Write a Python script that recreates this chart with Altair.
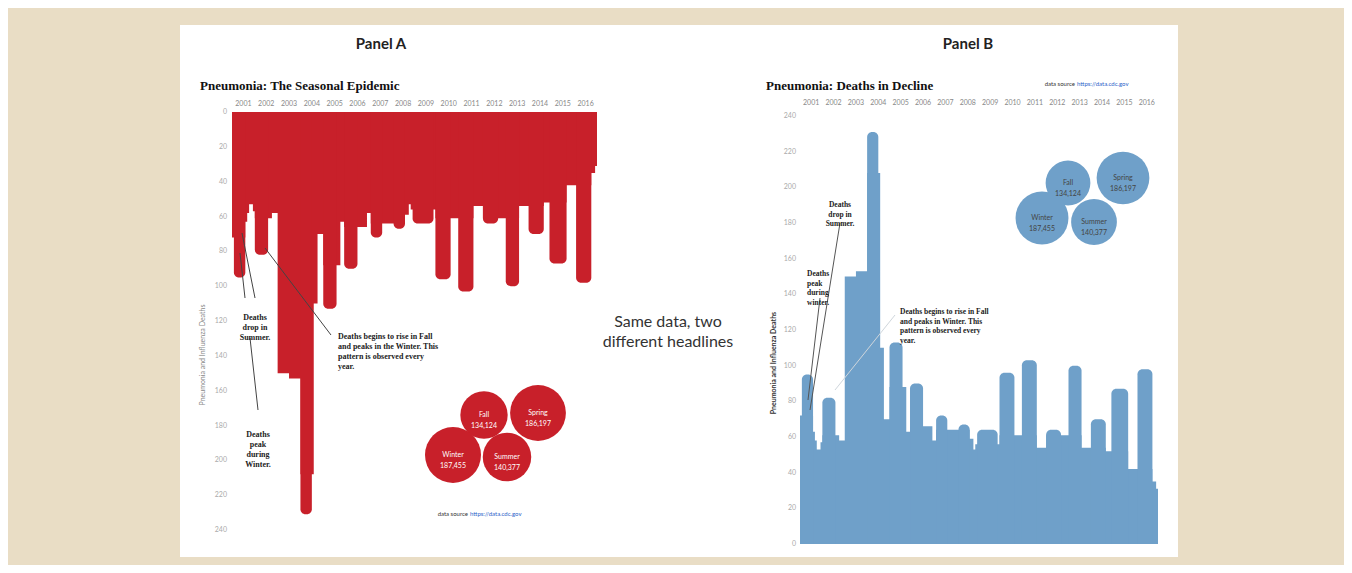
import altair as alt
import pandas as pd

# ---------------- data ----------------
years = list(range(2001, 2017))
d2001 = [72, 95, 95, 95, 95, 95, 95, 63, 58, 53, 53, 57]
d2002 = [82, 82, 82, 82, 82, 82, 82, 61, 61, 58, 58, 58]
d2003 = [150, 150, 150, 150, 150, 150, 153, 153, 153, 153, 153, 153]
d2004 = [231, 231, 231, 231, 231, 231, 208, 110, 110, 70, 70, 70]
d2005 = [113, 113, 113, 113, 113, 113, 113, 88, 88, 63, 63, 90]
d2006 = [90, 90, 90, 90, 90, 90, 66, 66, 66, 66, 66, 58]
d2007 = [58, 72, 72, 72, 72, 72, 72, 64, 64, 64, 64, 64]
d2008 = [64, 67, 67, 67, 67, 67, 67, 59, 59, 53, 56, 64]
d2009 = [64, 64, 64, 64, 64, 64, 64, 64, 64, 64, 56, 96]
d2010 = [96, 96, 96, 96, 96, 96, 96, 61, 61, 61, 61, 103]
d2011 = [103, 103, 103, 103, 103, 103, 103, 54, 54, 54, 54, 54]
d2012 = [64, 64, 64, 64, 64, 64, 64, 64, 61, 61, 61, 61]
d2013 = [100, 100, 100, 100, 100, 100, 100, 54, 54, 54, 54, 54]
d2014 = [70, 70, 70, 70, 70, 70, 70, 70, 52, 52, 52, 87]
d2015 = [87, 87, 87, 87, 87, 87, 87, 87, 42, 42, 42, 42]
d2016 = [42, 98, 98, 98, 98, 98, 98, 98, 98, 35, 35, 31]
yearly = [d2001, d2002, d2003, d2004, d2005, d2006, d2007, d2008,
          d2009, d2010, d2011, d2012, d2013, d2014, d2015, d2016]

seasons = ["Fall", "Spring", "Winter", "Summer"]
season_totals = [134124, 186197, 187455, 140377]
y_ticks = list(range(0, 241, 20))

# ---------------- layout / style ----------------
OFF = 8
def px(v):
    return v - OFF

BEIGE = "#e9ddc5"
RED = "#c8202a"
BLUE = "#6fa0c9"
SERIF = "Liberation Serif"
SANS = "Lato"
RAD = 5

A_XR = [px(232), px(597)]
A_YR = [px(112), px(530)]
B_XR = [px(800), px(1158)]
B_YR = [px(544), px(116)]

bubble_a_cx = [484, 538, 453, 507]
bubble_a_cy = [415, 413, 455, 457]
bubble_b_cx = [1068, 1123, 1042, 1094]
bubble_b_cy = [183, 178, 218, 222]

# ---------------- tables ----------------
vals = [v for yr in yearly for v in yr]
n = len(vals)

# consecutive runs of equal monthly values
runs = []
s = 0
for i in range(1, n + 1):
    if i == n or vals[i] != vals[s]:
        runs.append([s, i, vals[s]])
        s = i
# a run higher than both neighbours is a "drip" drawn with a rounded end;
# the stepped area underneath stops at the higher neighbour
area_vals = list(vals)
peaks = []
for k, (a, b, v) in enumerate(runs):
    left = runs[k - 1][2] if k > 0 else None
    right = runs[k + 1][2] if k + 1 < len(runs) else None
    if left is not None and right is not None and v > left and v > right:
        peaks.append({"start": a, "end": b, "deaths": v, "base": 0})
        for j in range(a, b):
            area_vals[j] = max(left, right)

series = pd.DataFrame({"m": list(range(n)) + [n], "deaths": area_vals + [area_vals[-1]]})
peak_df = pd.DataFrame(peaks)
year_df = pd.DataFrame({"year": [str(y) for y in years],
                        "xm": [(y - years[0]) * 12 + 6 for y in years]})
tick_df = pd.DataFrame({"v": y_ticks})

def bubble_df(cx, cy):
    return pd.DataFrame({
        "season": seasons,
        "total": season_totals,
        "label": [f"{s}\n{t:,}" for s, t in zip(seasons, season_totals)],
        "cx": [px(c) for c in cx],
        "cy": [px(c) for c in cy],
    })

one = pd.DataFrame({"a": [0]})

def xs(rng):
    return alt.Scale(domain=[0, 192], range=rng, nice=False, zero=False)

def ys(rng):
    return alt.Scale(domain=[0, 240], range=rng, nice=False)

def text(t, x, y, size, font=SANS, weight="normal", color="#333", align="center",
         baseline="middle", angle=0, lh=None):
    kw = dict(text=t, font=font, fontSize=size, fontWeight=weight, color=color,
              align=align, baseline=baseline, lineBreak="\n")
    if angle:
        kw["angle"] = angle
    if lh:
        kw["lineHeight"] = lh
    return alt.Chart(one).mark_text(**kw).encode(x=alt.value(px(x)), y=alt.value(px(y)))

def segs(lines, color, width=1):
    df = pd.DataFrame([{"x1": px(a), "y1": px(b), "x2": px(c), "y2": px(d)} for a, b, c, d in lines])
    return alt.Chart(df).mark_rule(color=color, strokeWidth=width).encode(
        x=alt.X("x1:Q", scale=None, axis=None), x2="x2:Q",
        y=alt.Y("y1:Q", scale=None, axis=None), y2="y2:Q")

# ---------------- layers ----------------
panel = alt.Chart(one).mark_rect(color="white").encode(
    x=alt.value(px(180)), x2=alt.value(px(1178)),
    y=alt.value(px(25)), y2=alt.value(px(557)))

# Panel A
areaA = alt.Chart(series).mark_area(interpolate="step-after", color=RED).encode(
    x=alt.X("m:Q", scale=xs(A_XR), axis=None),
    y=alt.Y("deaths:Q", scale=ys(A_YR), axis=None))
dripA = alt.Chart(peak_df).mark_rect(
    color=RED, cornerRadiusBottomLeft=RAD, cornerRadiusBottomRight=RAD).encode(
    x=alt.X("start:Q", scale=xs(A_XR), axis=None), x2="end:Q",
    y=alt.Y("deaths:Q", scale=ys(A_YR), axis=None), y2="base:Q")
yearsA = alt.Chart(year_df).mark_text(fontSize=7, color="#888", font=SANS).encode(
    x=alt.X("xm:Q", scale=xs(A_XR), axis=None), y=alt.value(px(104)), text="year:N")
ticksA = alt.Chart(tick_df).mark_text(fontSize=7, color="#aaa", font=SANS, align="right").encode(
    y=alt.Y("v:Q", scale=ys(A_YR), axis=None), x=alt.value(px(227)), text="v:Q")
bubA = alt.Chart(bubble_df(bubble_a_cx, bubble_a_cy)).mark_circle(color=RED, opacity=1).encode(
    x=alt.X("cx:Q", scale=None, axis=None), y=alt.Y("cy:Q", scale=None, axis=None),
    size=alt.Size("total:Q", scale=alt.Scale(domain=[0, 187455], range=[0, 3136]), legend=None))
bubAt = alt.Chart(bubble_df(bubble_a_cx, bubble_a_cy)).mark_text(
    fontSize=7, color="white", font=SANS, lineBreak="\n", lineHeight=11).encode(
    x=alt.X("cx:Q", scale=None, axis=None), y=alt.Y("cy:Q", scale=None, axis=None), text="label:N")

# Panel B
areaB = alt.Chart(series).mark_area(interpolate="step-after", color=BLUE).encode(
    x=alt.X("m:Q", scale=xs(B_XR), axis=None),
    y=alt.Y("deaths:Q", scale=ys(B_YR), axis=None))
dripB = alt.Chart(peak_df).mark_rect(
    color=BLUE, cornerRadiusTopLeft=RAD, cornerRadiusTopRight=RAD).encode(
    x=alt.X("start:Q", scale=xs(B_XR), axis=None), x2="end:Q",
    y=alt.Y("deaths:Q", scale=ys(B_YR), axis=None), y2="base:Q")
yearsB = alt.Chart(year_df).mark_text(fontSize=7, color="#888", font=SANS).encode(
    x=alt.X("xm:Q", scale=xs(B_XR), axis=None), y=alt.value(px(103)), text="year:N")
ticksB = alt.Chart(tick_df).mark_text(fontSize=7, color="#aaa", font=SANS, align="right").encode(
    y=alt.Y("v:Q", scale=ys(B_YR), axis=None), x=alt.value(px(796)), text="v:Q")
bubB = alt.Chart(bubble_df(bubble_b_cx, bubble_b_cy)).mark_circle(color=BLUE, opacity=1).encode(
    x=alt.X("cx:Q", scale=None, axis=None), y=alt.Y("cy:Q", scale=None, axis=None),
    size=alt.Size("total:Q", scale=alt.Scale(domain=[0, 187455], range=[0, 2800]), legend=None))
bubBt = alt.Chart(bubble_df(bubble_b_cx, bubble_b_cy)).mark_text(
    fontSize=7, color="#444", font=SANS, lineBreak="\n", lineHeight=11).encode(
    x=alt.X("cx:Q", scale=None, axis=None), y=alt.Y("cy:Q", scale=None, axis=None), text="label:N")

texts = [
    text("Panel A", 381, 44, 15, weight="bold", color="#222"),
    text("Panel B", 968, 44, 15, weight="bold", color="#222"),
    text("Same data, two\ndifferent headlines", 668, 322, 16, color="#333", lh=20),
    text("Pneumonia: The Seasonal Epidemic", 200, 86, 13, font=SERIF, weight="bold",
         color="#111", align="left"),
    text("Pneumonia: Deaths in Decline", 766, 86, 13, font=SERIF, weight="bold",
         color="#111", align="left"),
    text("Pneumonia and Influenza Deaths", 203, 355, 7, color="#888", angle=270),
    text("Pneumonia and Influenza Deaths", 774, 363, 7, color="#333", weight="bold", angle=270),
    # Panel A annotations
    text("Deaths\ndrop in\nSummer.", 255, 318, 8, font=SERIF, weight="bold", color="#222", lh=10),
    text("Deaths\npeak\nduring\nWinter.", 258, 435, 8, font=SERIF, weight="bold", color="#222", lh=10),
    text("Deaths begins to rise in Fall\nand peaks in the Winter. This\npattern is observed every\nyear.",
         338, 337, 8, font=SERIF, weight="bold", color="#222", align="left", lh=10),
    # Panel B annotations
    text("Deaths\ndrop in\nSummer.", 840, 205, 7.5, font=SERIF, weight="bold", color="#222", lh=9.5),
    text("Deaths\npeak\nduring\nwinter.", 807, 274, 7.5, font=SERIF, weight="bold", color="#222",
         align="left", lh=9.5),
    text("Deaths begins to rise in Fall\nand peaks in Winter. This\npattern is observed every\nyear.",
         900, 312, 7.5, font=SERIF, weight="bold", color="#222", align="left", lh=9.5),
    # data source
    text("data source", 468, 514, 6, color="#333", align="right"),
    text("https://data.cdc.gov", 470, 514, 6, color="#2a62c9", align="left"),
    text("data source", 1075, 84, 6, color="#333", align="right"),
    text("https://data.cdc.gov", 1077, 84, 6, color="#2a62c9", align="left"),
]

linesA = segs([(240, 253, 245, 298), (242, 233, 255, 298), (250, 338, 258, 410),
               (265, 248, 331, 335)], "#444")
linesB = segs([(840, 223, 810, 410), (820, 298, 808, 400)], "#555")
linesB2 = segs([(895, 315, 835, 390)], "#cfd6dc")

chart = alt.layer(
    panel, areaA, dripA, yearsA, ticksA, bubA, bubAt,
    areaB, dripB, yearsB, ticksB, bubB, bubBt,
    linesA, linesB, linesB2, *texts
).resolve_scale(
    x="independent", y="independent", size="independent"
).properties(
    width=1336, height=557, padding=0, background=BEIGE
).configure_view(stroke=None)

chart.save("out.html", embed_options={"renderer": "svg", "actions": False})
